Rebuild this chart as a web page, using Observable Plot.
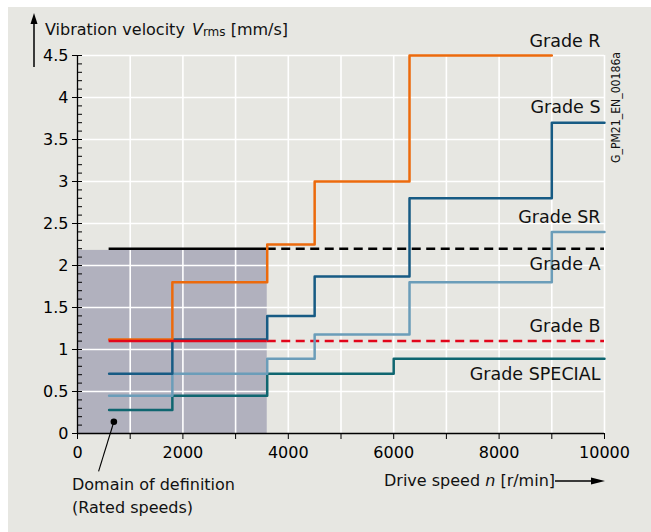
<!DOCTYPE html>
<html><head><meta charset="utf-8">
<script src="https://cdn.jsdelivr.net/npm/d3@7"></script>
<script src="https://cdn.jsdelivr.net/npm/@observablehq/plot@0.6"></script>
<style>
html,body{margin:0;padding:0;background:#fff;}
#wrap{position:relative;width:651px;height:532px;overflow:hidden;}
#panel{position:absolute;left:8px;top:7px;width:643px;height:525px;background:#e7e7e2;}
#chart{position:absolute;left:0;top:0;}
</style></head><body>
<div id="wrap"><div id="panel"></div><div id="chart"></div></div>
<script>
// ---- data (drive speed r/min, vibration velocity mm/s) ----
const gradeR = [[600,1.12],[1800,1.8],[3600,2.25],[4500,3.0],[6300,4.5],[9000,4.5]];
const gradeS = [[600,0.71],[1800,1.12],[3600,1.4],[4500,1.87],[6300,2.8],[9000,3.7],[10000,3.7]];
const gradeSR = [[600,0.45],[1800,0.71],[3600,0.89],[4500,1.18],[6300,1.8],[9000,2.4],[10000,2.4]];
const gradeSpecial = [[600,0.28],[1800,0.45],[3600,0.71],[6000,0.89],[10000,0.89]];
const gradeA = 2.2;
const gradeB = 1.1;
const speedStart = 600, ratedSpeedMax = 3600, speedMax = 10000;
const domainTop = 2.18;
const xTicks = [0,1000,2000,3000,4000,5000,6000,7000,8000,9000,10000];
const xTickLabels = [0,2000,4000,6000,8000,10000];
const yTicks = [0,0.5,1,1.5,2,2.5,3,3.5,4,4.5];
const yMinorTicks = [0.1,0.2,0.3,0.4,0.6,0.7,0.8,0.9,1.1,1.2,1.3,1.4,1.6,1.7,1.8,1.9,2.1,2.2,2.3,2.4,2.6,2.7,2.8,2.9,3.1,3.2,3.3,3.4,3.6,3.7,3.8,3.9,4.1,4.2,4.3,4.4];
const gradeLabels = [
  {text:"Grade R", y:4.60},
  {text:"Grade S", y:3.81},
  {text:"Grade SR", y:2.51},
  {text:"Grade A", y:1.95},
  {text:"Grade B", y:1.21},
  {text:"Grade SPECIAL", y:0.64}
];
const pointer = {x1:400, y1:-0.45, x2:690, y2:0.14};

const pts = a => a.map(([x,y]) => ({x,y}));
const C = {R:"#ec6a0c", S:"#175b84", SR:"#6b9db9", SP:"#0f6670", B:"#e2061b", A:"#000", dom:"#b1b1be"};
const F = "'DejaVu Sans', sans-serif";

const plot = Plot.plot({
  width: 651, height: 532,
  marginLeft: 77, marginRight: 47, marginTop: 55, marginBottom: 99,
  style: {fontFamily: F, fontSize: "16px", background: "transparent", overflow: "visible"},
  x: {domain: [0, speedMax]},
  y: {domain: [0, 4.5]},
  marks: [
    Plot.rect([{x1:0, x2:ratedSpeedMax, y1:0, y2:domainTop}], {x1:"x1", x2:"x2", y1:"y1", y2:"y2", fill:C.dom}),
    Plot.gridX(xTicks.filter(d => d > 0), {stroke:"white", strokeOpacity:1, strokeWidth:1.6}),
    Plot.gridY(yTicks.filter(d => d > 0), {stroke:"white", strokeOpacity:1, strokeWidth:1.6}),
    Plot.ruleY([gradeA], {x1:speedStart, x2:ratedSpeedMax, stroke:C.A, strokeWidth:2.5}),
    Plot.ruleY([gradeA], {x1:ratedSpeedMax, x2:speedMax, stroke:C.A, strokeWidth:2.5, strokeDasharray:"9,5.5"}),
    Plot.ruleY([gradeB], {x1:ratedSpeedMax, x2:speedMax, stroke:C.B, strokeWidth:2.5, strokeDasharray:"9,5.5"}),
    Plot.line(pts(gradeSpecial), {x:"x", y:"y", curve:"step-after", stroke:C.SP, strokeWidth:2.5}),
    Plot.line(pts(gradeSR), {x:"x", y:"y", curve:"step-after", stroke:C.SR, strokeWidth:2.5}),
    Plot.line(pts(gradeS), {x:"x", y:"y", curve:"step-after", stroke:C.S, strokeWidth:2.5}),
    Plot.line(pts(gradeR), {x:"x", y:"y", curve:"step-after", stroke:C.R, strokeWidth:2.5}),
    Plot.ruleY([gradeB], {x1:speedStart, x2:ratedSpeedMax, stroke:C.B, strokeWidth:2.5}),
    Plot.text(gradeLabels, {x:speedMax, y:"y", text:"text", textAnchor:"end", lineAnchor:"bottom", dx:-4, fontSize:17.5, fill:"#111"}),
    // axes
    Plot.ruleX([0], {y1:0, y2:4.5, stroke:"black", strokeWidth:1.3}),
    Plot.ruleY([0], {x1:0, x2:speedMax, stroke:"black", strokeWidth:1.3}),
    Plot.ruleY(yMinorTicks, {x1:0, x2:0, insetRight:-5, stroke:"black", strokeWidth:1}),
    Plot.ruleY(yTicks, {x1:0, x2:0, insetRight:-5, stroke:"black", strokeWidth:1}),
    Plot.axisY(yTicks, {tickSize:5, tickPadding:4, tickFormat:d => String(d)}),
    Plot.axisX(xTicks, {tickSize:6, tickPadding:7, tickFormat:d => xTickLabels.includes(d) ? String(d) : ""}),
    // pointer for domain of definition
    Plot.link([pointer], {x1:"x1", y1:"y1", x2:"x2", y2:"y2", stroke:"black", strokeWidth:1.1}),
    Plot.dot([pointer], {x:"x2", y:"y2", r:3.3, fill:"black"})
  ]
});
document.getElementById("chart").appendChild(plot);

// annotations (titles, arrows)
const svg = d3.select(plot);
const g = svg.append("g").attr("font-family", F).attr("fill", "#111");
// y-axis arrow
g.append("line").attr("x1",34).attr("x2",34).attr("y1",67).attr("y2",22).attr("stroke","black").attr("stroke-width",1.5);
g.append("path").attr("d","M34,13L37.5,24L30.5,24Z").attr("fill","black");
const t = g.append("text").attr("x",45).attr("y",35).attr("font-size",16).attr("text-anchor","start");
t.append("tspan").text("Vibration velocity ");
t.append("tspan").attr("dx",2).attr("font-style","italic").text("V");
t.append("tspan").attr("font-size",12).attr("dy",1).text("rms");
t.append("tspan").attr("dy",-1).text(" [mm/s]");
// x label with arrow
const xl = g.append("text").attr("x",384).attr("y",486).attr("font-size",16).attr("text-anchor","start");
xl.append("tspan").text("Drive speed ");
xl.append("tspan").attr("font-style","italic").text("n");
xl.append("tspan").text(" [r/min]");
g.append("line").attr("x1",555).attr("x2",593).attr("y1",481).attr("y2",481).attr("stroke","black").attr("stroke-width",1.3);
g.append("path").attr("d","M605,481L591,477.5L591,484.5Z").attr("fill","black");
// domain text
g.append("text").attr("x",72).attr("y",490).attr("font-size",16).attr("text-anchor","start").text("Domain of definition");
g.append("text").attr("x",72).attr("y",513).attr("font-size",16).attr("text-anchor","start").text("(Rated speeds)");
// drawing code
g.append("text").attr("transform","translate(619.5,107.5) rotate(-90)").attr("font-size",12.5)
  .attr("text-anchor","middle").attr("textLength",111).attr("lengthAdjust","spacingAndGlyphs").text("G_PM21_EN_00186a");
</script>
</body></html>
